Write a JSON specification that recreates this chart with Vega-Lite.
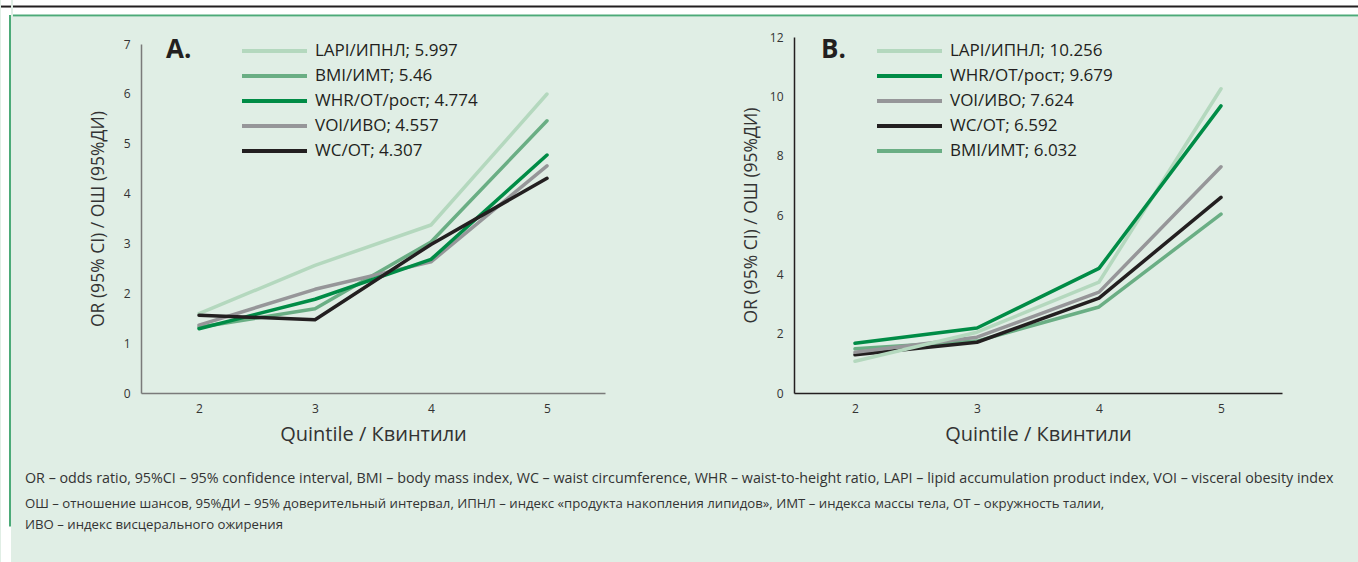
{
  "$schema": "https://vega.github.io/schema/vega-lite/v6.json",
  "background": "#e0eee5",
  "padding": 0,
  "autosize": {"type": "pad"},
  "config": {
    "view": {"stroke": null},
    "font": "Open Sans",
    "axis": {
      "labelFont": "Open Sans",
      "titleFont": "Open Sans",
      "labelColor": "#333333",
      "titleColor": "#333333",
      "labelFontSize": 12,
      "ticks": false,
      "tickSize": 0,
      "grid": false,
      "titleFontWeight": "normal",
      "domainWidth": 1.5
    }
  },
  "spacing": 0,
  "hconcat": [
    {
      "width": 10,
      "height": 562,
      "view": {"fill": "#ffffff"},
      "data": {"values": [{}]},
      "layer": [
        {
          "mark": {"type": "rule", "color": "#231f20", "strokeWidth": 2},
          "encoding": {
            "y": {"datum": 7, "type": "quantitative", "scale": {"domain": [0, 562], "reverse": true}, "axis": null}
          }
        },
        {
          "mark": {"type": "rule", "color": "#4caa78", "strokeWidth": 2},
          "encoding": {
            "x": {"datum": 9, "type": "quantitative", "scale": {"domain": [0, 10]}, "axis": null},
            "y": {"datum": 16, "type": "quantitative"},
            "y2": {"datum": 562}
          }
        }
      ]
    },
    {
      "spacing": 14,
      "vconcat": [
        {
          "width": 1348,
          "height": 17,
          "view": {"fill": "#ffffff"},
          "data": {"values": [{}]},
          "layer": [
            {
              "mark": {"type": "rule", "color": "#231f20", "strokeWidth": 2},
              "encoding": {
                "y": {"datum": 7, "type": "quantitative", "scale": {"domain": [0, 17], "reverse": true}, "axis": null}
              }
            },
            {
              "mark": {"type": "rule", "color": "#4caa78", "strokeWidth": 2},
              "encoding": {
                "y": {"datum": 16.5, "type": "quantitative"}
              }
            }
          ]
        },
        {
          "spacing": 10,
          "title": {
            "text": "OR – odds ratio, 95%CI – 95% confidence interval, BMI – body mass index, WC – waist circumference, WHR – waist-to-height ratio, LAPI – lipid accumulation product index, VOI – visceral obesity index",
            "subtitle": [
              "ОШ – отношение шансов, 95%ДИ – 95% доверительный интервал, ИПНЛ – индекс «продукта накопления липидов», ИМТ – индекса массы тела, ОТ – окружность талии,",
              "ИВО – индекс висцерального ожирения"
            ],
            "orient": "bottom",
            "anchor": "start",
            "frame": "bounds",
            "dx": 12,
            "offset": 27.5,
            "font": "Open Sans",
            "fontSize": 14.3,
            "fontWeight": "normal",
            "color": "#333333",
            "subtitleFont": "Open Sans",
            "subtitleFontSize": 13.2,
            "subtitleColor": "#333333",
            "subtitleLineHeight": 21,
            "subtitlePadding": 12.5
          },
          "hconcat": [
            {"width": 66, "height": 10, "data": {"values": []}, "mark": "point"},
            {
              "spacing": 137,
              "resolve": {
                "scale": {"x": "independent", "y": "independent", "color": "independent"},
                "legend": {"color": "independent"}
              },
              "hconcat": [
                {
                  "width": 464,
                  "height": 356,
                  "data": {
                    "values": [
                      {"series": "LAPI/ИПНЛ; 5.997", "q": 2, "or": 1.59},
                      {"series": "LAPI/ИПНЛ; 5.997", "q": 3, "or": 2.56},
                      {"series": "LAPI/ИПНЛ; 5.997", "q": 4, "or": 3.37},
                      {"series": "LAPI/ИПНЛ; 5.997", "q": 5, "or": 5.997},
                      {"series": "BMI/ИМТ; 5.46", "q": 2, "or": 1.32},
                      {"series": "BMI/ИМТ; 5.46", "q": 3, "or": 1.69},
                      {"series": "BMI/ИМТ; 5.46", "q": 4, "or": 3.03},
                      {"series": "BMI/ИМТ; 5.46", "q": 5, "or": 5.46},
                      {"series": "VOI/ИВО; 4.557", "q": 2, "or": 1.36},
                      {"series": "VOI/ИВО; 4.557", "q": 3, "or": 2.08},
                      {"series": "VOI/ИВО; 4.557", "q": 4, "or": 2.63},
                      {"series": "VOI/ИВО; 4.557", "q": 5, "or": 4.557},
                      {"series": "WHR/ОТ/рост; 4.774", "q": 2, "or": 1.29},
                      {"series": "WHR/ОТ/рост; 4.774", "q": 3, "or": 1.88},
                      {"series": "WHR/ОТ/рост; 4.774", "q": 4, "or": 2.68},
                      {"series": "WHR/ОТ/рост; 4.774", "q": 5, "or": 4.774},
                      {"series": "WC/ОТ; 4.307", "q": 2, "or": 1.56},
                      {"series": "WC/ОТ; 4.307", "q": 3, "or": 1.47},
                      {"series": "WC/ОТ; 4.307", "q": 4, "or": 2.98},
                      {"series": "WC/ОТ; 4.307", "q": 5, "or": 4.307}
                    ]
                  },
                  "layer": [
                    {
                      "mark": {"type": "line", "strokeWidth": 3.5, "strokeCap": "round", "strokeJoin": "round"},
                      "encoding": {
                        "x": {
                          "field": "q", "type": "ordinal",
                          "scale": {"type": "point", "padding": 0.5},
                          "axis": {"title": "Quintile / Квинтили", "labelAngle": 0, "labelPadding": 10, "titlePadding": 10, "titleFontSize": 20, "domainColor": "#7a7a7a"}
                        },
                        "y": {
                          "field": "or", "type": "quantitative",
                          "scale": {"domain": [0, 7], "range": [356, 7], "nice": false},
                          "axis": {"values": [0, 1, 2, 3, 4, 5, 6, 7], "title": "OR (95% CI) / ОШ (95%ДИ)", "titleFontSize": 17.5, "labelPadding": 11, "titlePadding": 15.5, "domainColor": "#7a7a7a"}
                        },
                        "color": {
                          "field": "series", "type": "nominal",
                          "scale": {
                            "domain": ["LAPI/ИПНЛ; 5.997", "BMI/ИМТ; 5.46", "WHR/ОТ/рост; 4.774", "VOI/ИВО; 4.557", "WC/ОТ; 4.307"],
                            "range": ["#b4d8be", "#6aae84", "#008c46", "#969699", "#231f20"]
                          },
                          "legend": {
                            "orient": "none", "legendX": 99, "legendY": 1.5, "title": null,
                            "symbolType": "stroke", "symbolSize": 4225, "symbolStrokeWidth": 4,
                            "clipHeight": 25, "rowPadding": 0, "labelOffset": 6, "padding": 0,
                            "labelFont": "Open Sans", "labelFontSize": 17, "labelColor": "#231f20", "labelLimit": 300
                          }
                        }
                      }
                    },
                    {
                      "data": {"values": [{"label": "A."}]},
                      "mark": {"type": "text", "font": "Open Sans", "fontSize": 26, "fontWeight": "bold", "align": "left", "baseline": "alphabetic", "dx": -33, "dy": 14, "color": "#231f20"},
                      "encoding": {
                        "x": {"datum": 2, "type": "ordinal"},
                        "y": {"datum": 7, "type": "quantitative"},
                        "text": {"field": "label"}
                      }
                    }
                  ]
                },
                {
                  "width": 488,
                  "height": 356,
                  "data": {
                    "values": [
                      {"series": "BMI/ИМТ; 6.032", "q": 2, "or": 1.49},
                      {"series": "BMI/ИМТ; 6.032", "q": 3, "or": 1.75},
                      {"series": "BMI/ИМТ; 6.032", "q": 4, "or": 2.9},
                      {"series": "BMI/ИМТ; 6.032", "q": 5, "or": 6.032},
                      {"series": "WC/ОТ; 6.592", "q": 2, "or": 1.29},
                      {"series": "WC/ОТ; 6.592", "q": 3, "or": 1.71},
                      {"series": "WC/ОТ; 6.592", "q": 4, "or": 3.2},
                      {"series": "WC/ОТ; 6.592", "q": 5, "or": 6.592},
                      {"series": "VOI/ИВО; 7.624", "q": 2, "or": 1.37},
                      {"series": "VOI/ИВО; 7.624", "q": 3, "or": 1.88},
                      {"series": "VOI/ИВО; 7.624", "q": 4, "or": 3.4},
                      {"series": "VOI/ИВО; 7.624", "q": 5, "or": 7.624},
                      {"series": "LAPI/ИПНЛ; 10.256", "q": 2, "or": 1.07},
                      {"series": "LAPI/ИПНЛ; 10.256", "q": 3, "or": 2.05},
                      {"series": "LAPI/ИПНЛ; 10.256", "q": 4, "or": 3.74},
                      {"series": "LAPI/ИПНЛ; 10.256", "q": 5, "or": 10.256},
                      {"series": "WHR/ОТ/рост; 9.679", "q": 2, "or": 1.68},
                      {"series": "WHR/ОТ/рост; 9.679", "q": 3, "or": 2.19},
                      {"series": "WHR/ОТ/рост; 9.679", "q": 4, "or": 4.2},
                      {"series": "WHR/ОТ/рост; 9.679", "q": 5, "or": 9.679}
                    ]
                  },
                  "layer": [
                    {
                      "mark": {"type": "line", "strokeWidth": 3.5, "strokeCap": "round", "strokeJoin": "round"},
                      "encoding": {
                        "x": {
                          "field": "q", "type": "ordinal",
                          "scale": {"type": "point", "padding": 0.5},
                          "axis": {"title": "Quintile / Квинтили", "labelAngle": 0, "labelPadding": 10, "titlePadding": 10, "titleFontSize": 20, "domainColor": "#231f20"}
                        },
                        "y": {
                          "field": "or", "type": "quantitative",
                          "scale": {"domain": [0, 12], "nice": false},
                          "axis": {"values": [0, 2, 4, 6, 8, 10, 12], "title": "OR (95% CI) / ОШ (95%ДИ)", "titleFontSize": 17.5, "labelPadding": 11, "titlePadding": 9, "domainColor": "#231f20"}
                        },
                        "color": {
                          "field": "series", "type": "nominal",
                          "scale": {
                            "domain": ["LAPI/ИПНЛ; 10.256", "WHR/ОТ/рост; 9.679", "VOI/ИВО; 7.624", "WC/ОТ; 6.592", "BMI/ИМТ; 6.032"],
                            "range": ["#b4d8be", "#008c46", "#969699", "#231f20", "#6aae84"]
                          },
                          "legend": {
                            "orient": "none", "legendX": 81, "legendY": 1.5, "title": null,
                            "symbolType": "stroke", "symbolSize": 4225, "symbolStrokeWidth": 4,
                            "clipHeight": 25, "rowPadding": 0, "labelOffset": 6, "padding": 0,
                            "labelFont": "Open Sans", "labelFontSize": 17, "labelColor": "#231f20", "labelLimit": 300
                          }
                        }
                      }
                    },
                    {
                      "data": {"values": [{"label": "B."}]},
                      "mark": {"type": "text", "font": "Open Sans", "fontSize": 26, "fontWeight": "bold", "align": "left", "baseline": "alphabetic", "dx": -34, "dy": 21, "color": "#231f20"},
                      "encoding": {
                        "x": {"datum": 2, "type": "ordinal"},
                        "y": {"datum": 12, "type": "quantitative"},
                        "text": {"field": "label"}
                      }
                    }
                  ]
                }
              ]
            }
          ]
        }
      ]
    }
  ]
}
